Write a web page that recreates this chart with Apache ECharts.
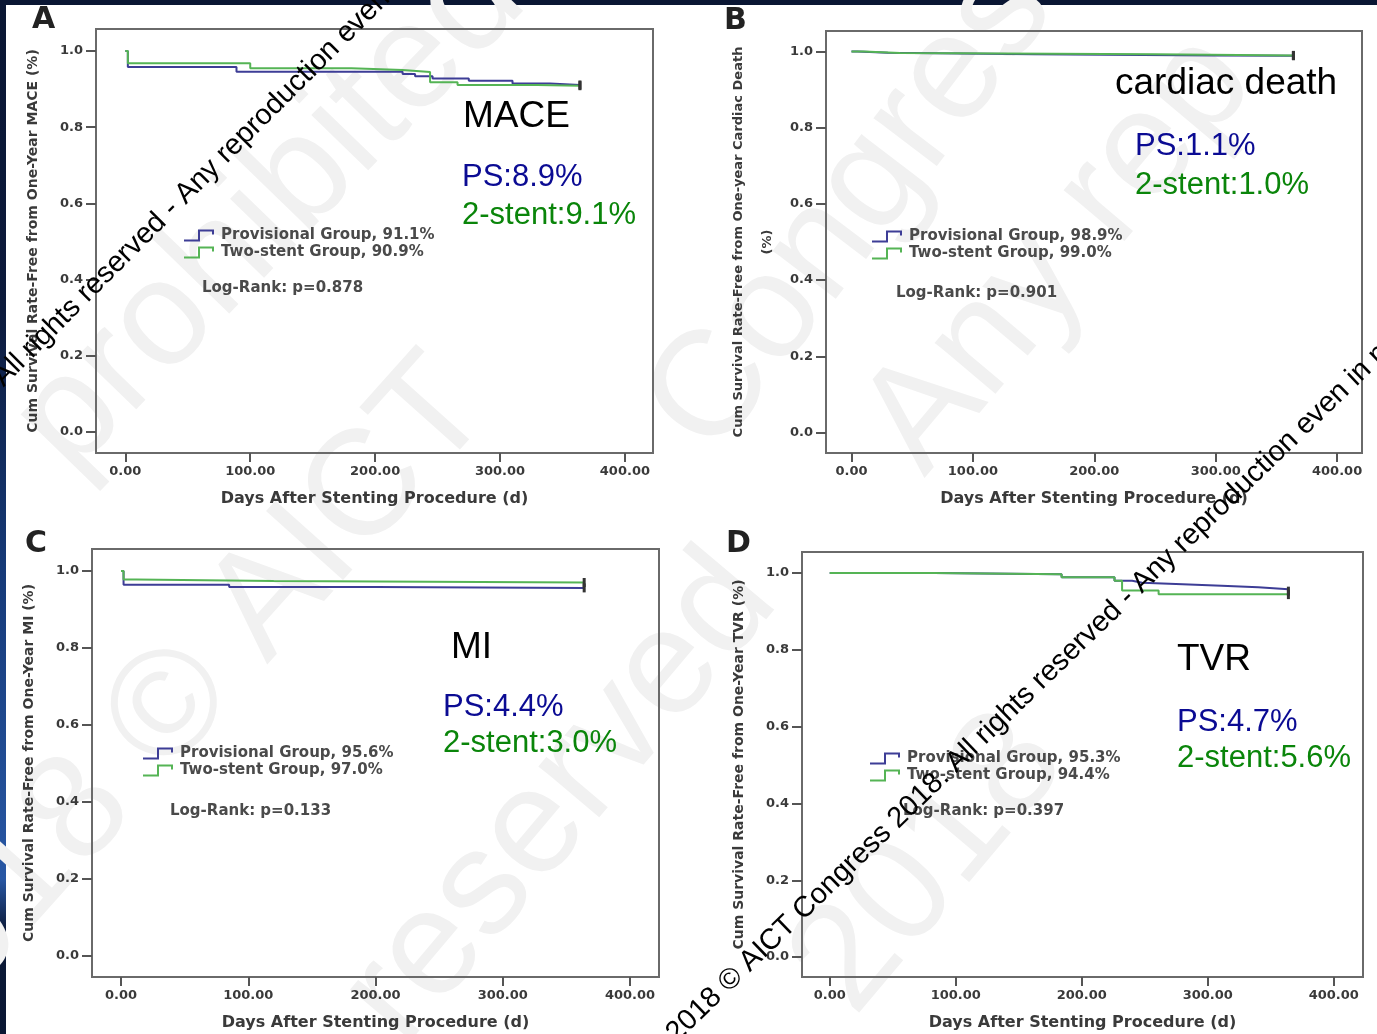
<!DOCTYPE html>
<html>
<head>
<meta charset="utf-8">
<script src="https://cdn.jsdelivr.net/npm/echarts@6/dist/echarts.min.js"></script>
<style>
  html, body { margin: 0; padding: 0; width: 1377px; height: 1034px; overflow: hidden;
    background: linear-gradient(180deg, #0a1633 0%, #0c1a3c 30%, #163a78 55%, #2857a4 85%, #0c1a38 90%, #0a1633 100%); }
  #chart { width: 1377px; height: 1034px; }
</style>
</head>
<body>
<div id="chart"></div>
<script>
// tick positions shared by the four panels
var xTicks = [0, 100, 200, 300, 400];
var yTicks = [0, 0.2, 0.4, 0.6, 0.8, 1.0];

// A - MACE (Kaplan-Meier, days / survival)
var maceProvDays = [0, 2, 89, 222, 232, 246, 275, 310, 340, 364];
var maceProvSurv = [1.0, 0.958, 0.946, 0.940, 0.934, 0.928, 0.922, 0.915, 0.911, 0.911];
var maceTwoDays = [0, 2, 100, 181, 222, 244, 266, 330, 364];
var maceTwoSurv = [1.0, 0.968, 0.955, 0.950, 0.945, 0.918, 0.911, 0.909, 0.909];

// B - cardiac death
var deathProvDays = [0, 5, 30, 150, 300, 364];
var deathProvSurv = [1.0, 0.997, 0.993, 0.990, 0.989, 0.989];
var deathTwoDays = [0, 10, 40, 250, 364];
var deathTwoSurv = [1.0, 0.996, 0.993, 0.990, 0.990];

// C - MI
var miProvDays = [0, 2, 85, 200, 364];
var miProvSurv = [1.0, 0.964, 0.958, 0.956, 0.956];
var miTwoDays = [0, 2, 12, 120, 364];
var miTwoSurv = [1.0, 0.978, 0.974, 0.970, 0.970];

// D - TVR
var tvrProvDays = [0, 83, 184, 226, 240, 248, 280, 311, 340, 364];
var tvrProvSurv = [1.0, 0.997, 0.989, 0.980, 0.975, 0.971, 0.967, 0.963, 0.958, 0.953];
var tvrTwoDays = [0, 83, 184, 226, 232, 261, 364];
var tvrTwoSurv = [1.0, 0.997, 0.989, 0.980, 0.955, 0.945, 0.944];

var panelLetters = ['A', 'B', 'C', 'D'];
var endpoints = ['MACE', 'cardiac death', 'MI', 'TVR'];
var psRates = ['PS:8.9%', 'PS:1.1%', 'PS:4.4%', 'PS:4.7%'];
var twoRates = ['2-stent:9.1%', '2-stent:1.0%', '2-stent:3.0%', '2-stent:5.6%'];
var provLegend = ['Provisional Group, 91.1%', 'Provisional Group, 98.9%', 'Provisional Group, 95.6%', 'Provisional Group, 95.3%'];
var twoLegend = ['Two-stent Group, 90.9%', 'Two-stent Group, 99.0%', 'Two-stent Group, 97.0%', 'Two-stent Group, 94.4%'];
var logRank = ['Log-Rank: p=0.878', 'Log-Rank: p=0.901', 'Log-Rank: p=0.133', 'Log-Rank: p=0.397'];
var yTitles = [
  'Cum Survival Rate-Free from One-Year MACE (%)',
  'Cum Survival Rate-Free from One-year Cardiac Death\n(%)',
  'Cum Survival Rate-Free from One-Year MI (%)',
  'Cum Survival Rate-Free from One-Year TVR (%)'
];
var xTitle = 'Days After Stenting Procedure (d)';

var provData = [[maceProvDays, maceProvSurv], [deathProvDays, deathProvSurv], [miProvDays, miProvSurv], [tvrProvDays, tvrProvSurv]];
var twoData = [[maceTwoDays, maceTwoSurv], [deathTwoDays, deathTwoSurv], [miTwoDays, miTwoSurv], [tvrTwoDays, tvrTwoSurv]];

// layout of each panel (frame box + axis extents)
var boxes = [
  { left: 96, top: 29, width: 557, height: 424, xMin: -23.5, xMax: 422.5, yMin: -0.056, yMax: 1.058 },
  { left: 826, top: 31, width: 536, height: 422, xMin: -21, xMax: 420.5, yMin: -0.054, yMax: 1.054 },
  { left: 92, top: 549, width: 567, height: 428, xMin: -22.8, xMax: 422.8, yMin: -0.0545, yMax: 1.057 },
  { left: 802, top: 552, width: 561, height: 425, xMin: -22, xMax: 423.2, yMin: -0.052, yMax: 1.055 }
];
var spots = [
  { letter: [32, 20], title: [463, 117], ps: [462, 177], two: [462, 215], legend: [184, 228], lr: [202, 288] },
  { letter: [724, 21], title: [1115, 84], ps: [1135, 146], two: [1135, 185], legend: [872, 229], lr: [896, 293] },
  { letter: [25, 544], title: [451, 648], ps: [443, 707], two: [443, 743], legend: [143, 746], lr: [170, 811] },
  { letter: [726, 544], title: [1177, 660], ps: [1177, 722], two: [1177, 758], legend: [870, 751], lr: [903, 811] }
];

var provColor = '#3d3d96';
var twoColor = '#55b455';
var boldFont = 'DejaVu Sans';
var stepIcon = 'path://M0,10 L14,10 L14,0 L30,0 L30,5 L28,5 L28,2 L16,2 L16,12 L0,12 Z';

// step points, with a censor tick on the last one
function pairs(days, surv) {
  return days.map(function (d, i) {
    if (i === days.length - 1) {
      return { value: [d, surv[i]], symbol: 'rect', symbolSize: [3, 9], itemStyle: { color: '#333' } };
    }
    return { value: [d, surv[i]], symbol: 'none' };
  });
}

var grids = [], xAxes = [], yAxes = [], series = [], legends = [], graphics = [];

graphics.push({ type: 'rect', z: -100, shape: { x: 6, y: 5, width: 1371, height: 1029 }, style: { fill: '#ffffff' } });

// faint background watermark
var faint = [
  ['prohibited', 95, 500, 0.80],
  ['Congress', 740, 480, 0.92],
  ['Any rep', 950, 500, 0.87],
  ['2018 \u00a9 AICT', -60, 1080, 0.84],
  ['reserved', 430, 1070, 0.87],
  ['2018', 880, 1040, 0.87]
];
faint.forEach(function (w) {
  graphics.push({ type: 'text', z: -50, x: w[1], y: w[2], rotation: w[3],
    style: { text: w[0], font: '150px "Liberation Sans"', fill: '#f1f1f1', textVerticalAlign: 'bottom' } });
});

for (var i = 0; i < 4; i++) {
  var b = boxes[i], s = spots[i];
  grids.push({ left: b.left, top: b.top, width: b.width, height: b.height, show: true,
    borderColor: '#6a6a6a', borderWidth: 2, backgroundColor: 'transparent' });

  xAxes.push({
    gridIndex: i, type: 'value', min: b.xMin, max: b.xMax,
    axisLine: { show: false, onZero: false }, splitLine: { show: false },
    axisTick: { show: true, length: 9, customValues: xTicks, lineStyle: { color: '#555', width: 2 } },
    axisLabel: { customValues: xTicks, margin: 12, formatter: function (v) { return v.toFixed(2); },
      fontFamily: boldFont, fontWeight: 'bold', fontSize: 13, color: '#3a3a3a' },
    name: xTitle, nameLocation: 'middle', nameGap: 38,
    nameTextStyle: { fontFamily: boldFont, fontWeight: 'bold', fontSize: 16, color: '#3a3a3a' }
  });

  yAxes.push({
    gridIndex: i, type: 'value', min: b.yMin, max: b.yMax,
    axisLine: { show: false, onZero: false }, splitLine: { show: false },
    axisTick: { show: true, length: 10, customValues: yTicks, lineStyle: { color: '#555', width: 2 } },
    axisLabel: { customValues: yTicks, margin: 13, formatter: function (v) { return v.toFixed(1); },
      fontFamily: boldFont, fontWeight: 'bold', fontSize: 13, color: '#3a3a3a' },
    name: yTitles[i], nameLocation: 'middle', nameGap: i === 1 ? 44 : 48, nameRotate: 90,
    nameTextStyle: { fontFamily: boldFont, fontWeight: 'bold', fontSize: i === 1 ? 13 : 14, color: '#3a3a3a', lineHeight: 29, align: 'center' }
  });

  series.push({ name: provLegend[i], type: 'line', step: 'end', xAxisIndex: i, yAxisIndex: i,
    showSymbol: true, lineStyle: { color: provColor, width: 2 }, itemStyle: { color: provColor },
    data: pairs(provData[i][0], provData[i][1]) });
  series.push({ name: twoLegend[i], type: 'line', step: 'end', xAxisIndex: i, yAxisIndex: i,
    showSymbol: true, lineStyle: { color: twoColor, width: 2 }, itemStyle: { color: twoColor },
    data: pairs(twoData[i][0], twoData[i][1]) });

  legends.push({ data: [provLegend[i], twoLegend[i]], orient: 'vertical', left: s.legend[0], top: s.legend[1],
    padding: 0, itemGap: 2, itemWidth: 34, itemHeight: 12, icon: stepIcon, selectedMode: false,
    itemStyle: { borderWidth: 0 },
    textStyle: { fontFamily: boldFont, fontWeight: 'bold', fontSize: 15, color: '#4a4a4a' } });

  graphics.push({ type: 'text', x: s.lr[0], y: s.lr[1], style: { text: logRank[i],
    font: 'bold 15px "DejaVu Sans"', fill: '#4a4a4a', textVerticalAlign: 'middle' } });
  graphics.push({ type: 'text', x: s.letter[0], y: s.letter[1], style: { text: panelLetters[i],
    font: 'bold 30px "DejaVu Sans"', fill: '#222', textVerticalAlign: 'middle' } });
  graphics.push({ type: 'text', x: s.title[0], y: s.title[1], style: { text: endpoints[i],
    font: '37px "Liberation Sans"', fill: '#000', textVerticalAlign: 'middle' } });
  graphics.push({ type: 'text', x: s.ps[0], y: s.ps[1], style: { text: psRates[i],
    font: '31px "Liberation Sans"', fill: '#0b0b93', textVerticalAlign: 'middle' } });
  graphics.push({ type: 'text', x: s.two[0], y: s.two[1], style: { text: twoRates[i],
    font: '31px "Liberation Sans"', fill: '#0a850a', textVerticalAlign: 'middle' } });
}

// black diagonal copyright lines
var notice = '2018 \u00a9 AICT Congress 2018. All rights reserved - Any reproduction even in part is prohibited';
graphics.push({ type: 'text', z: 100, x: -267, y: 667, rotation: Math.PI / 4,
  style: { text: notice, font: '29px "Liberation Sans"', fill: '#000', textVerticalAlign: 'bottom' } });
graphics.push({ type: 'text', z: 100, x: 681, y: 1048, rotation: 0.768,
  style: { text: notice, font: '29px "Liberation Sans"', fill: '#000', textVerticalAlign: 'bottom' } });

var option = {
  backgroundColor: 'transparent',
  animation: false,
  grid: grids,
  xAxis: xAxes,
  yAxis: yAxes,
  legend: legends,
  series: series,
  graphic: { elements: graphics }
};

var myChart = echarts.init(document.getElementById('chart'));
option && myChart.setOption(option);
</script>
</body>
</html>
